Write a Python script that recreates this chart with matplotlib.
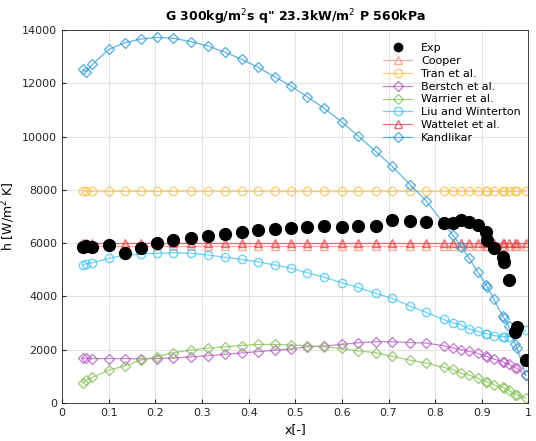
import numpy as np
import matplotlib
matplotlib.use('Agg')
import matplotlib.pyplot as plt

# vapour quality (shared by all series)
x_q = [0.044, 0.051, 0.065, 0.100, 0.134, 0.168, 0.203, 0.238, 0.277, 0.312,
       0.350, 0.385, 0.420, 0.456, 0.490, 0.525, 0.562, 0.599, 0.634, 0.672,
       0.707, 0.746, 0.781, 0.818, 0.838, 0.856, 0.873, 0.891, 0.909, 0.912,
       0.926, 0.945, 0.948, 0.958, 0.972, 0.976, 0.994]

h_exp = [5840, 5880, 5840, 5930, 5620, 5810, 5990, 6120, 6200, 6270,
         6340, 6420, 6480, 6520, 6560, 6590, 6640, 6620, 6640, 6640,
         6870, 6830, 6810, 6740, 6740, 6860, 6800, 6680, 6430, 6120,
         5810, 5490, 5310, 4600, 2680, 2860, 1610]

h_cooper = [5890, 5890, 5890, 5890, 5890, 5890, 5890, 5890, 5890, 5890,
            5890, 5890, 5890, 5890, 5890, 5890, 5890, 5890, 5890, 5890,
            5890, 5890, 5890, 5890, 5890, 5890, 5890, 5890, 5890, 5890,
            5890, 5890, 5890, 5890, 5890, 5890, 5890]

h_tran = [7950, 7950, 7950, 7950, 7950, 7950, 7950, 7950, 7950, 7950,
          7950, 7950, 7950, 7950, 7950, 7950, 7950, 7950, 7950, 7950,
          7950, 7950, 7950, 7950, 7950, 7950, 7950, 7950, 7950, 7950,
          7950, 7950, 7950, 7950, 7950, 7950, 7950]

h_berstch = [1680, 1680, 1670, 1670, 1670, 1660, 1670, 1690, 1730, 1780,
             1830, 1880, 1930, 1980, 2030, 2110, 2140, 2200, 2260, 2300,
             2300, 2270, 2250, 2150, 2070, 2000, 1940, 1870, 1750, 1740,
             1650, 1550, 1530, 1450, 1320, 1300, 1050]

h_warrier = [760, 860, 960, 1240, 1390, 1610, 1740, 1890, 1990, 2060,
             2110, 2160, 2200, 2200, 2180, 2150, 2110, 2050, 1960, 1890,
             1760, 1610, 1500, 1340, 1260, 1110, 1050, 930, 800, 790,
             680, 590, 570, 480, 320, 300, 175]

h_liu = [5180, 5220, 5270, 5430, 5550, 5590, 5620, 5640, 5620, 5560,
         5470, 5390, 5300, 5180, 5060, 4890, 4720, 4520, 4340, 4120,
         3930, 3640, 3400, 3140, 3010, 2930, 2780, 2690, 2600, 2590,
         2530, 2490, 2490, 2490, 2600, 2620, 2730]

h_wattelet = [6010, 6010, 6010, 6010, 6010, 6010, 6010, 6010, 6010, 6010,
              6010, 6010, 6010, 6010, 6010, 6010, 6010, 6010, 6010, 6010,
              6010, 6010, 6010, 6010, 6010, 6010, 6010, 6010, 6010, 6010,
              6010, 6010, 6010, 6010, 6010, 6010, 6010]

h_kandlikar = [12520, 12440, 12710, 13270, 13520, 13660, 13720, 13690, 13560, 13400,
               13160, 12900, 12600, 12240, 11900, 11500, 11060, 10560, 10030, 9450,
               8890, 8200, 7580, 6740, 6300, 5870, 5430, 4930, 4440, 4360,
               3890, 3260, 3180, 2880, 2200, 2050, 1050]

fig = plt.figure(figsize=(5.36, 4.41), dpi=100)
ax = fig.add_axes([0.116, 0.086, 0.870, 0.846])

#Plot the correlations first, then the experimental points on top.
models = [
    ('Cooper', h_cooper, '#F5957A', '^'),
    ('Tran et al.', h_tran, '#F5C242', 'o'),
    ('Berstch et al.', h_berstch, '#B55BC0', 'D'),
    ('Warrier et al.', h_warrier, '#86C05A', 'D'),
    ('Liu and Winterton', h_liu, '#3EC3F0', 'o'),
    ('Wattelet et al.', h_wattelet, '#E0404F', '^'),
    ('Kandlikar', h_kandlikar, '#2E9AD6', 'D'),
]
handles = []
for name, h, c, m in models:
    ms = 5 if m == 'D' else 6
    ln, = ax.plot(x_q, h, color=c, marker=m, mfc='none', mec=c, markersize=ms,
                  linewidth=0.9, alpha=0.75, label=name)
    handles.append(ln)

ex, = ax.plot(x_q, h_exp, linestyle='none', marker='o', color='black',
              markersize=8.5, label='Exp')
handles = [ex] + handles

ax.set_xlim(0, 1)
ax.set_ylim(0, 14000)
ax.set_xticks(np.arange(0, 1.01, 0.1))
ax.set_xticklabels(['0', '0.1', '0.2', '0.3', '0.4', '0.5', '0.6', '0.7', '0.8', '0.9', '1'])
ax.set_yticks(np.arange(0, 14001, 2000))
ax.tick_params(direction='in', labelsize=8, length=3, colors='#262626')
ax.grid(True, color='#E3E3E3', linewidth=0.8)
ax.set_axisbelow(True)
for s in ax.spines.values():
    s.set_color('#262626')
    s.set_linewidth(0.6)

ax.set_xlabel('x[-]', fontsize=9)
ax.set_ylabel('h [W/m$^2$ K]', fontsize=9)
ax.set_title('G 300kg/m$^2$s q" 23.3kW/m$^2$ P 560kPa', fontsize=9, fontweight='bold')

leg = ax.legend(handles=handles, loc='upper right', bbox_to_anchor=(1.0, 0.985),
                frameon=False, fontsize=8, handlelength=2.6, labelspacing=0.25,
                borderaxespad=0.3)
leg.legend_handles[0].set_markersize(6)

fig.savefig('out.png', dpi=100)
